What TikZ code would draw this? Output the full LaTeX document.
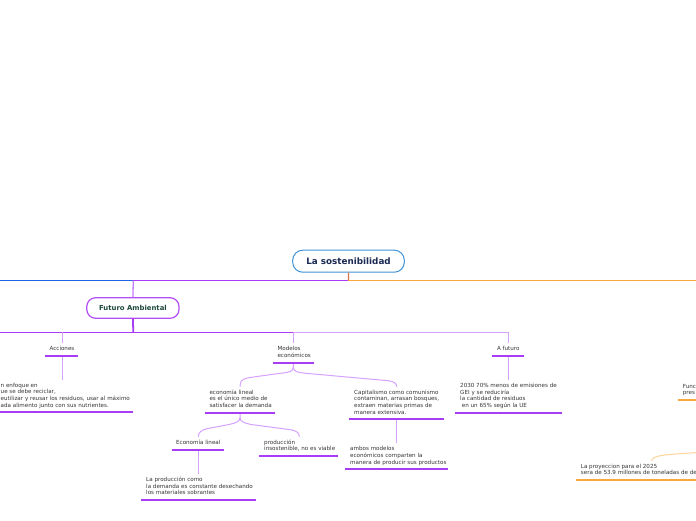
\documentclass[tikz,border=0pt]{standalone}
\usepackage{fontspec}
\setmainfont{DejaVu Sans}
\definecolor{rootblue}{HTML}{3F93D8}
\definecolor{rootnavy}{HTML}{1B2A55}
\definecolor{fapurple}{HTML}{B34DF7}
\definecolor{fagreen}{HTML}{1E4A3C}
\definecolor{brpurple}{HTML}{A83DF5}
\definecolor{ltpurple}{HTML}{D7A1FF}
\definecolor{midpurple}{HTML}{C27CFF}
\definecolor{blueline}{HTML}{2062E6}
\definecolor{orangeline}{HTML}{F7A93B}
\definecolor{ltorange}{HTML}{FCD49A}
\definecolor{dropred}{HTML}{D9734A}
\definecolor{txtgray}{HTML}{353535}
\begin{document}
\begin{tikzpicture}[x=1pt,y=-1pt,
  rootbox/.style={draw=rootblue, line width=1pt, rounded corners=10pt, fill=white,
    minimum width=111.6pt, minimum height=22pt, inner sep=0pt,
    font=\bfseries\fontsize{8.8}{10}\selectfont, text=rootnavy},
  fabox/.style={draw=fapurple, line width=1.2pt, rounded corners=9pt, fill=white,
    minimum width=92.3pt, minimum height=20.6pt, inner sep=0pt,
    font=\bfseries\fontsize{6.9}{8}\selectfont, text=fagreen},
  txt/.style={font=\fontsize{5.6}{6.7}\selectfont, text=txtgray, align=left,
    inner sep=0pt, text depth=0pt},
  ul/.style={draw=brpurple, line width=2pt},
  oul/.style={draw=orangeline, line width=2pt},
  mainline/.style={line width=1.3pt},
  lpline/.style={draw=ltpurple, line width=1pt},
  drop/.style={lpline, shorten >=3pt}
]
\useasboundingbox (0,0) rectangle (696,520);
\clip (0,0) rectangle (696,520);
\fill[white] (0,0) rectangle (696,520);

% ---------- root and main branches ----------
\node[rootbox] (root) at (348.5,261.2) {La sostenibilidad};
\coordinate (j0) at (348.4,280.5);
\coordinate (jFA) at (133.3,280.5);
\coordinate (eL) at (-5,280.5);
\coordinate (eR) at (701,280.5);
\draw[mainline, draw=dropred] (root.south) -- (j0);
\draw[mainline, draw=orangeline] (j0) -- (eR);
\draw[mainline, draw=brpurple] (j0) -- (jFA);
\draw[mainline, draw=blueline] (jFA) -- (eL);

\node[fabox] (fa) at (132.9,308) {Futuro Ambiental};
\draw[mainline, draw=midpurple] (jFA) -- (fa.north);

\coordinate (j1) at (133.3,332.3);
\coordinate (eL2) at (-5,332.3);
\coordinate (j2) at (293.3,332.3);
\coordinate (j3) at (508.3,332.3);
\coordinate (ja) at (62,332.3);
\draw[line width=1.8pt, draw=brpurple] (fa.south) -- (j1);
\draw[mainline, draw=brpurple] (j1) -- (eL2);
\draw[mainline, draw=brpurple] (j1) -- (j2);
\draw[line width=1pt, draw=ltpurple] (j2) -- (j3);

% ---------- Acciones ----------
\node[txt, anchor=south] (acc) at (62,350.7) {Acciones};
\draw[ul] (45,356) -- (77.7,356);
\draw[drop] (ja) -- (acc.north);
\coordinate (accU) at (62,357);
\node[txt, anchor=south west] (acct) at (0.5,407.3)
  {n enfoque en\\ue se debe reciclar,\\eutilizar y reusar los residuos, usar al máximo\\ada alimento junto con sus nutrientes.};
\draw[ul] (-5,412) -- (132.7,412);
\draw[drop] (accU) -- (accU |- acct.north);

% ---------- Modelos económicos ----------
\node[txt, anchor=south west] (mod) at (277.3,357.7) {Modelos\\económicos};
\draw[ul] (272.7,363) -- (314.3,363);
\draw[drop] (j2) -- (j2 |- mod.north);
\coordinate (modU) at (293.3,364);

\node[txt, anchor=south west] (econ) at (209.3,407.7)
  {economía lineal\\es el único medio de\\satisfacer la demanda};
\draw[ul] (205,413) -- (275,413);

\node[txt, anchor=south west] (capi) at (354,414.3)
  {Capitalismo como comunismo\\contaminan, arrasan bosques,\\extraen materias primas de\\manera extensiva.};
\draw[ul] (349.3,419) -- (444.3,419);

\draw[lpline] (modU) -- (293.3,367) .. controls (293.3,372) and (288,372.5) .. (280,373.3)
  -- (250,377.5) .. controls (242,378.7) and (240,381) .. (240,386.7);
\draw[lpline] (293.3,367) .. controls (293.3,372) and (298.5,372.5) .. (306,373.3)
  -- (387,380.6) .. controls (394.5,381.4) and (396.7,383.5) .. (396.7,386.7);

\coordinate (capiU) at (396.7,420);
\node[txt, anchor=south west] (ambos) at (350,464.3)
  {ambos modelos\\económicos comparten la\\manera de producir sus productos};
\draw[ul] (345,469) -- (448.3,469);
\draw[drop] (capiU) -- (capiU |- ambos.north);

% ---------- economía lineal children ----------
\coordinate (econU) at (240,414);
\node[txt, anchor=south] (el) at (198.3,445) {Economía lineal};
\draw[ul] (171.7,450) -- (224.3,450);
\node[txt, anchor=south west] (prod) at (264,451)
  {producción\\insostenible, no es viable};
\draw[ul] (259.3,456) -- (338.3,456);

\draw[lpline] (econU) -- (240,417.5) .. controls (240,421.5) and (236,423) .. (229,424.5)
  -- (208,428.5) .. controls (201,430) and (198.3,432.5) .. (198.3,436.7);
\draw[lpline] (240,417.5) .. controls (240,421.5) and (244,423) .. (251,424.5)
  -- (289,429.5) .. controls (296.5,430.6) and (299.3,432.5) .. (299.3,436.7);

\coordinate (elU) at (198.3,451);
\node[txt, anchor=south west] (lapro) at (146,495)
  {La producción como\\la demanda es constante desechando\\los materiales sobrantes};
\draw[ul] (141,500) -- (256,500);
\draw[drop] (elU) -- (elU |- lapro.north);

% ---------- A futuro ----------
\node[txt, anchor=south] (af) at (508.3,351) {A futuro};
\draw[ul] (492.3,356) -- (524,356);
\draw[drop] (j3) -- (af.north);
\coordinate (afU) at (508.3,357);
\node[txt, anchor=south west] (aft) at (460,407.7)
  {2030 70\% menos de emisiones de\\GEI y se reduciría\\la cantidad de residuos\\\hspace*{1.7pt}en un 65\% según la UE};
\draw[ul] (455,413) -- (561.7,413);
\draw[drop] (afU) -- (afU |- aft.north);

% ---------- orange branch (right edge) ----------
\node[txt, anchor=south west] (func) at (682.7,395) {Func\\pres};
\draw[oul] (677.7,400) -- (701,400);

\node[txt, anchor=south west] (proy) at (580.7,475)
  {La proyeccion para el 2025\\sera de 53.9 millones de toneladas de des};
\draw[oul] (576,480) -- (701,480);
\coordinate (offR) at (701,452.3);
\coordinate (pj) at (651.7,461);
\draw[draw=ltorange, line width=1pt] (offR) -- (682,453.5) .. controls (662,455) and (651.7,456) .. (pj);
\end{tikzpicture}
\end{document}
